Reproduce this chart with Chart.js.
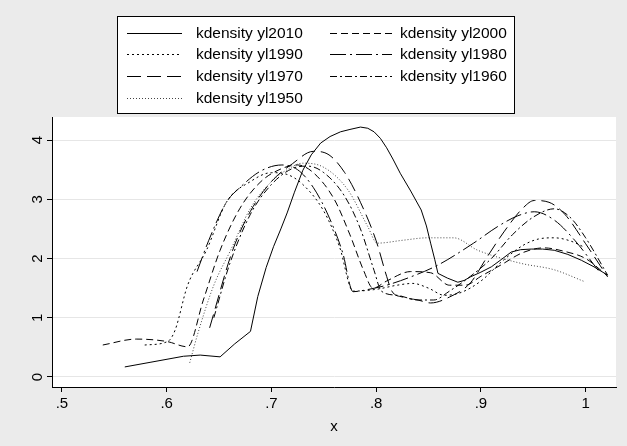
<!DOCTYPE html>
<html>
<head>
<meta charset="utf-8">
<script src="https://cdn.jsdelivr.net/npm/chart.js@4.4.1/dist/chart.umd.min.js"></script>
<style>
  body { margin: 0; background: #ebebeb; }
  #wrap { width: 627px; height: 446px; }
</style>
</head>
<body>
<div id="wrap"><canvas id="myChart" width="627" height="446"></canvas></div>
<script>
// kernel density curves
var x2010 = [0.560, 0.585, 0.616, 0.632, 0.651, 0.665, 0.680, 0.687, 0.695, 0.702, 0.709, 0.715, 0.722, 0.730, 0.738, 0.747, 0.756, 0.766, 0.775, 0.785, 0.792, 0.798, 0.804, 0.810, 0.816, 0.823, 0.833, 0.843, 0.848, 0.852, 0.856, 0.859, 0.868, 0.878, 0.884, 0.890, 0.900, 0.910, 0.920, 0.929, 0.938, 0.948, 0.959, 0.970, 0.983, 0.996, 1.008, 1.021];
var y2010 = [0.17, 0.25, 0.35, 0.37, 0.34, 0.56, 0.77, 1.36, 1.85, 2.20, 2.50, 2.77, 3.12, 3.49, 3.75, 3.95, 4.06, 4.14, 4.18, 4.22, 4.20, 4.14, 4.03, 3.87, 3.68, 3.44, 3.14, 2.82, 2.55, 2.26, 1.98, 1.75, 1.67, 1.60, 1.63, 1.69, 1.77, 1.86, 1.99, 2.11, 2.15, 2.16, 2.16, 2.14, 2.07, 1.97, 1.86, 1.72];

var x2000 = [0.539, 0.571, 0.600, 0.620, 0.635, 0.651, 0.670, 0.690, 0.710, 0.725, 0.740, 0.760, 0.775, 0.788, 0.797, 0.810, 0.833, 0.852, 0.870, 0.885, 0.900, 0.920, 0.940, 0.960, 0.980, 1.000, 1.020];
var y2000 = [0.54, 0.64, 0.60, 0.51, 1.30, 2.14, 2.85, 3.30, 3.52, 3.58, 3.45, 3.00, 2.40, 1.80, 1.50, 1.62, 1.78, 1.76, 1.55, 1.55, 1.70, 1.90, 2.10, 2.18, 2.12, 2.00, 1.72];

var x1990 = [0.579, 0.601, 0.608, 0.620, 0.638, 0.657, 0.680, 0.700, 0.715, 0.730, 0.750, 0.765, 0.778, 0.800, 0.820, 0.835, 0.850, 0.865, 0.880, 0.900, 0.920, 0.940, 0.955, 0.970, 0.985, 0.999];
var y1990 = [0.54, 0.60, 0.79, 1.55, 2.14, 2.95, 3.30, 3.45, 3.42, 3.25, 2.80, 2.20, 1.45, 1.48, 1.55, 1.58, 1.50, 1.38, 1.42, 1.62, 1.95, 2.22, 2.33, 2.35, 2.30, 2.19];

var x1980 = [0.629, 0.640, 0.657, 0.670, 0.690, 0.710, 0.725, 0.740, 0.755, 0.768, 0.778, 0.790, 0.810, 0.833, 0.859, 0.893, 0.916, 0.935, 0.951, 0.970, 0.990, 1.012];
var y1980 = [1.78, 2.30, 2.95, 3.20, 3.48, 3.58, 3.50, 3.20, 2.70, 2.10, 1.44, 1.47, 1.55, 1.69, 1.89, 2.26, 2.54, 2.72, 2.79, 2.65, 2.30, 1.80];

var x1970 = [0.641, 0.663, 0.680, 0.700, 0.720, 0.740, 0.755, 0.770, 0.785, 0.800, 0.810, 0.815, 0.825, 0.840, 0.852, 0.870, 0.890, 0.905, 0.922, 0.940, 0.951, 0.965, 0.980, 1.000, 1.021];
var y1970 = [0.83, 2.14, 2.80, 3.30, 3.60, 3.81, 3.75, 3.45, 2.95, 2.30, 1.70, 1.45, 1.35, 1.30, 1.25, 1.35, 1.59, 2.00, 2.45, 2.85, 2.98, 2.95, 2.75, 2.25, 1.69];

var x1960 = [0.645, 0.660, 0.680, 0.700, 0.720, 0.735, 0.750, 0.770, 0.785, 0.798, 0.805, 0.820, 0.840, 0.855, 0.870, 0.890, 0.910, 0.930, 0.950, 0.970, 0.985, 1.000, 1.021];
var y1960 = [1.00, 1.90, 2.75, 3.25, 3.52, 3.56, 3.45, 3.05, 2.50, 1.80, 1.45, 1.38, 1.30, 1.30, 1.45, 1.70, 2.00, 2.40, 2.70, 2.84, 2.70, 2.35, 1.72];

var x1950 = [0.622, 0.630, 0.645, 0.661, 0.680, 0.700, 0.715, 0.730, 0.750, 0.773, 0.792, 0.801, 0.826, 0.849, 0.874, 0.897, 0.938, 0.970, 0.999];
var y1950 = [0.24, 0.75, 1.55, 2.14, 2.85, 3.30, 3.50, 3.61, 3.54, 3.16, 2.54, 2.26, 2.31, 2.35, 2.35, 2.14, 1.92, 1.81, 1.61];

var seriesNames = ["kdensity yl2010", "kdensity yl2000", "kdensity yl1990", "kdensity yl1980",
                   "kdensity yl1970", "kdensity yl1960", "kdensity yl1950"];
var xTicks = [0.5, 0.6, 0.7, 0.8, 0.9, 1];
var yTicks = [0, 1, 2, 3, 4];

var FONT = "'Liberation Sans', Arial, sans-serif";

function pts(xs, ys) {
    var out = [];
    for (var i = 0; i < xs.length; i++) out.push({x: xs[i], y: ys[i]});
    return out;
}

var styles = [
    {dash: [], color: "#000"},
    {dash: [7, 4], color: "#000"},
    {dash: [2, 3], color: "#000"},
    {dash: [16, 4, 2, 4], color: "#000"},
    {dash: [14, 6], color: "#000"},
    {dash: [7, 3, 2, 3], color: "#000"},
    {dash: [1, 2], color: "#444"}
];
var xs = [x2010, x2000, x1990, x1980, x1970, x1960, x1950];
var ys = [y2010, y2000, y1990, y1980, y1970, y1960, y1950];

var datasets = [];
for (var i = 0; i < seriesNames.length; i++) {
    datasets.push({
        label: seriesNames[i],
        data: pts(xs[i], ys[i]),
        borderColor: styles[i].color,
        borderDash: styles[i].dash,
        borderWidth: 1,
        pointRadius: 0,
        fill: false,
        // 2010 is traced densely, draw it as a polyline like Stata does
        tension: i === 0 ? 0 : 0.4,
        cubicInterpolationMode: i === 0 ? "default" : "monotone"
    });
}

// grey page, white plot region
var bgPlugin = {
    id: "bg",
    beforeDraw: function(chart) {
        var ctx = chart.ctx, a = chart.chartArea;
        ctx.save();
        ctx.fillStyle = "#ebebeb";
        ctx.fillRect(0, 0, chart.width, chart.height);
        ctx.fillStyle = "#fff";
        ctx.fillRect(a.left, a.top, a.right - a.left, a.bottom - a.top);
        ctx.restore();
    }
};

// Stata style boxed legend, two columns
var legendPlugin = {
    id: "boxLegend",
    afterDraw: function(chart) {
        var ctx = chart.ctx;
        ctx.save();
        ctx.fillStyle = "#fff";
        ctx.fillRect(117, 16, 397, 97);
        ctx.strokeStyle = "#000";
        ctx.lineWidth = 1;
        ctx.setLineDash([]);
        ctx.strokeRect(117.5, 16.5, 397, 97);
        ctx.font = "15.5px " + FONT;
        ctx.textBaseline = "middle";
        ctx.fillStyle = "#000";
        chart.data.datasets.forEach(function(ds, i) {
            var col = i % 2, row = Math.floor(i / 2);
            var y = Math.round(32.5 + row * 21.7) + 0.5;
            var lx0 = col ? 330 : 127, lx1 = col ? 392 : 182, tx = col ? 400 : 196;
            ctx.strokeStyle = ds.borderColor;
            ctx.setLineDash(ds.borderDash);
            ctx.beginPath();
            ctx.moveTo(lx0, y);
            ctx.lineTo(lx1, y);
            ctx.stroke();
            ctx.fillText(ds.label, tx, y);
        });
        ctx.restore();
    }
};

var ctx = document.getElementById("myChart").getContext("2d");
var myChart = new Chart(ctx, {
    type: "line",
    data: {datasets: datasets},
    plugins: [bgPlugin, legendPlugin],
    options: {
        responsive: false,
        animation: false,
        devicePixelRatio: 1,
        layout: {padding: {top: 117, right: 11, bottom: 0, left: 0}},
        plugins: {legend: {display: false}, tooltip: {enabled: false}},
        scales: {
            x: {
                type: "linear",
                min: 0.4905,
                max: 1.029,
                afterBuildTicks: function(s) { s.ticks = xTicks.map(function(v) { return {value: v}; }); },
                afterFit: function(s) { s.height = 59; },
                grid: {drawOnChartArea: false, tickLength: 5, tickColor: "#000"},
                border: {color: "#000"},
                ticks: {
                    color: "#000",
                    padding: 3,
                    maxRotation: 0,
                    font: {family: FONT, size: 15},
                    callback: function(v) { return v === 1 ? "1" : String(+v.toFixed(1)).replace("0.", "."); }
                },
                title: {display: true, text: "x", color: "#000", font: {family: FONT, size: 15}, padding: {top: 0, bottom: 10}}
            },
            y: {
                min: -0.169,
                max: 4.39,
                afterBuildTicks: function(s) { s.ticks = yTicks.map(function(v) { return {value: v}; }); },
                afterFit: function(s) { s.width = 52; },
                grid: {color: "#e6e6e6", tickLength: 5, tickColor: "#000"},
                border: {color: "#000"},
                ticks: {
                    color: "#000",
                    minRotation: 90,
                    maxRotation: 90,
                    crossAlign: "center",
                    padding: 5,
                    font: {family: FONT, size: 15}
                }
            }
        }
    }
});
</script>
</body>
</html>
